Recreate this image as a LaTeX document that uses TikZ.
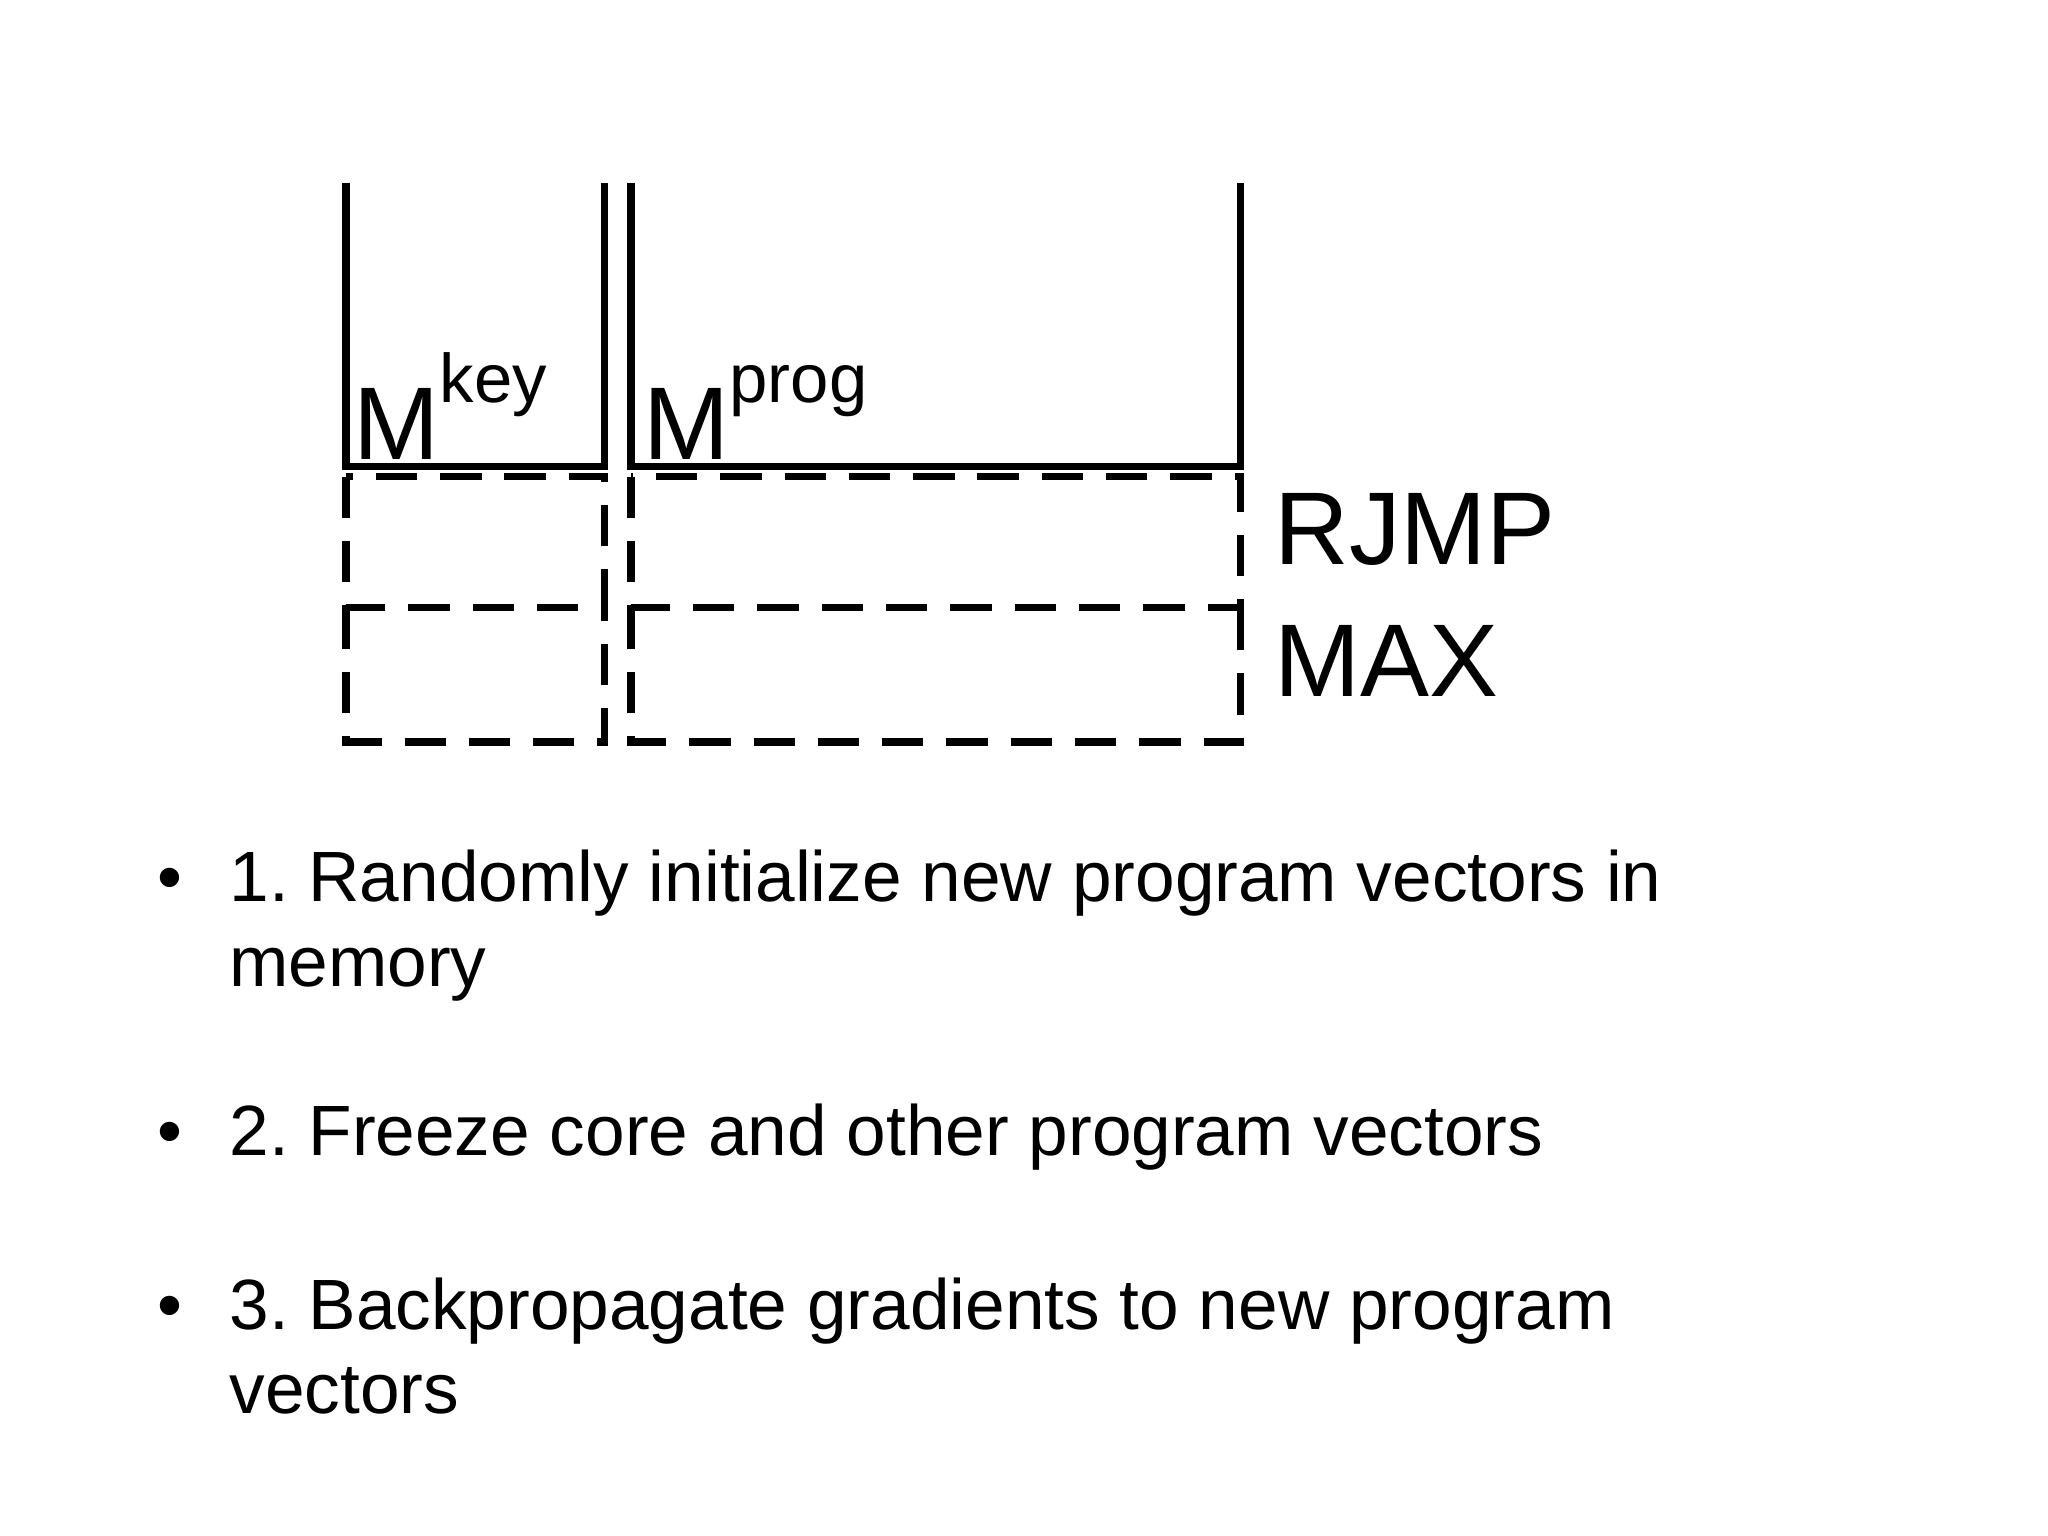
\documentclass[tikz,border=0pt]{standalone}
\usepackage{fontspec}
\setmainfont{Liberation Sans}
\frenchspacing
\begin{document}
\begin{tikzpicture}[x=0.01cm,y=-0.01cm,
  solid box/.style={line width=1.6pt},
  dash box/.style={line width=1.6pt,dash pattern=on 9pt off 5pt},
  lab/.style={anchor=base west,inner sep=0pt,font=\fontsize{22.5}{27}\selectfont},
  bul/.style={anchor=base west,inner sep=0pt,font=\fontsize{15.5}{19}\selectfont}]
\useasboundingbox (0,0) rectangle (1568,1176);
% solid top boxes
\draw[solid box] (265,140) -- (265,357) -- (463,357) -- (463,140);
\draw[solid box] (483,140) -- (483,357) -- (950,357) -- (950,140);
% dashed rows
\draw[dash box] (265,365) rectangle (463,465);
\draw[dash box] (483,365) rectangle (950,465);
\draw[dash box] (265,465) -- (265,568) -- (463,568) -- (463,465);
\draw[dash box] (483,465) -- (483,568) -- (950,568) -- (950,465);
% labels
\node[lab] (mkey) at (270,352) {M\raisebox{0.55em}{\fontsize{15}{18}\selectfont key}};
\node[lab] (mprog) at (492,352) {M\raisebox{0.55em}{\fontsize{15}{18}\selectfont prog}};
\node[lab] (rjmp) at (975,432) {RJMP};
\node[lab] (max) at (975,533) {MAX};
% bullets
\node[bul] (b1) at (120,690) {•};
\node[bul] (t1) at (175,690) {1. Randomly initialize new program vectors in};
\node[bul] (t1b) at (175,755) {memory};
\node[bul] (b2) at (120,885) {•};
\node[bul] (t2) at (175,885) {2. Freeze core and other program vectors};
\node[bul] (b3) at (120,1018) {•};
\node[bul] (t3) at (175,1018) {3. Backpropagate gradients to new program};
\node[bul] (t3b) at (175,1082) {vectors};
\end{tikzpicture}
\end{document}
